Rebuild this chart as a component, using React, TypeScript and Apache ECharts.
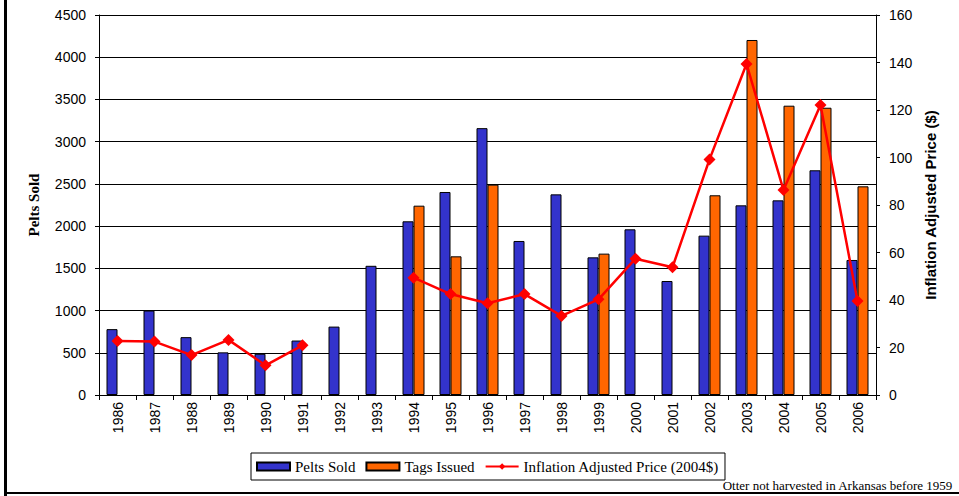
import React, { useEffect, useRef } from "react";
import * as echarts from "echarts";

const years = ["1986","1987","1988","1989","1990","1991","1992","1993","1994","1995","1996","1997","1998","1999","2000","2001","2002","2003","2004","2005","2006"];
const peltsSold = [780, 1000, 685, 505, 488, 645, 810, 1530, 2057, 2404, 3160, 1824, 2376, 1630, 1962, 1350, 1887, 2246, 2305, 2661, 1599];
const tagsIssued: (number | string)[] = ["-", "-", "-", "-", "-", "-", "-", "-", 2242, 1642, 2491, "-", "-", 1674, "-", "-", 2365, 4204, 3426, 3402, 2471];
const price: (number | string)[] = [22.7, 22.5, 16.8, 23.2, 12.5, 20.9, "-", "-", 49.4, 42.5, 38.6, 42.5, 33.3, 40.3, 57.4, 53.8, 99.2, 139.4, 86.3, 122.1, 39.6];

const leftTicks = { min: 0, max: 4500, interval: 500 };
const rightTicks = { min: 0, max: 160, interval: 20 };

export default function App() {
  const ref = useRef<HTMLDivElement>(null);
  useEffect(() => {
    if (!ref.current) return;
    const chart = echarts.init(ref.current, null, { renderer: "svg" });
    const sans = "Liberation Sans, Arial, sans-serif";
    const serif = "Liberation Serif, Times New Roman, serif";
    chart.setOption({
      animation: false,
      backgroundColor: "#fff",
      grid: { left: 99, right: 83, top: 15, bottom: 101, containLabel: false },
      legend: {
        left: 251,
        top: 453,
        orient: "horizontal",
        borderColor: "#000",
        borderWidth: 1,
        padding: [6, 6, 6, 5],
        itemGap: 10,
        itemWidth: 33,
        itemHeight: 8,
        textStyle: { fontFamily: serif, fontSize: 15, color: "#000", padding: [0, 0, 0, 0] },
        data: [
          { name: "Pelts Sold", icon: "rect" },
          { name: "Tags Issued", icon: "rect" },
          { name: "Inflation Adjusted Price (2004$)" },
        ],
      },
      xAxis: {
        type: "category",
        data: years,
        axisLine: { lineStyle: { color: "#000", width: 1 } },
        axisTick: { show: true, length: 5, lineStyle: { color: "#000" } },
        axisLabel: { rotate: 90, fontFamily: sans, fontSize: 14, color: "#000", margin: 7 },
      },
      yAxis: [
        {
          type: "value",
          ...leftTicks,
          name: "Pelts Sold",
          nameLocation: "middle",
          nameRotate: 90,
          nameGap: 58,
          nameTextStyle: { fontFamily: serif, fontWeight: "bold", fontSize: 15, color: "#000" },
          axisLine: { show: true, lineStyle: { color: "#000" } },
          axisTick: { show: true, length: 4, lineStyle: { color: "#000" } },
          axisLabel: { fontFamily: sans, fontSize: 14, color: "#000", margin: 13, formatter: (v: number) => String(v) },
          splitLine: { show: true, lineStyle: { color: "#000", width: 1 } },
        },
        {
          type: "value",
          ...rightTicks,
          name: "Inflation Adjusted Price ($)",
          nameLocation: "middle",
          nameRotate: 90,
          nameGap: 46,
          nameTextStyle: { fontFamily: sans, fontWeight: "bold", fontSize: 15, color: "#000" },
          axisLine: { show: true, lineStyle: { color: "#000" } },
          axisTick: { show: true, length: 4, lineStyle: { color: "#000" } },
          axisLabel: { fontFamily: sans, fontSize: 14, color: "#000", margin: 13 },
          splitLine: { show: false },
        },
      ],
      series: [
        {
          name: "Pelts Sold",
          type: "bar",
          data: peltsSold,
          barWidth: 11,
          barGap: "0%",
          itemStyle: { color: "#3333CC", borderColor: "#000", borderWidth: 1 },
        },
        {
          name: "Tags Issued",
          type: "bar",
          data: tagsIssued,
          barWidth: 11,
          barGap: "0%",
          itemStyle: { color: "#FF6600", borderColor: "#000", borderWidth: 1 },
        },
        {
          name: "Inflation Adjusted Price (2004$)",
          type: "line",
          yAxisIndex: 1,
          data: price,
          connectNulls: false,
          symbol: "diamond",
          symbolSize: 12,
          lineStyle: { color: "#FF0000", width: 2.5 },
          itemStyle: { color: "#FF0000" },
        },
      ],
      graphic: [
        { type: "rect", left: 4, top: 0, shape: { width: 3, height: 496 }, style: { fill: "#000" } },
        { type: "rect", left: 4, top: 492, shape: { width: 955, height: 2 }, style: { fill: "#000" } },
        {
          type: "text",
          right: 6,
          top: 479,
          style: { text: "Otter not harvested in Arkansas before 1959", fontFamily: serif, fontSize: 13, fill: "#000" },
        },
      ],
    });
    return () => chart.dispose();
  }, []);
  return <div ref={ref} style={{ position: "fixed", left: 0, top: 0, width: 959, height: 496 }} />;
}
